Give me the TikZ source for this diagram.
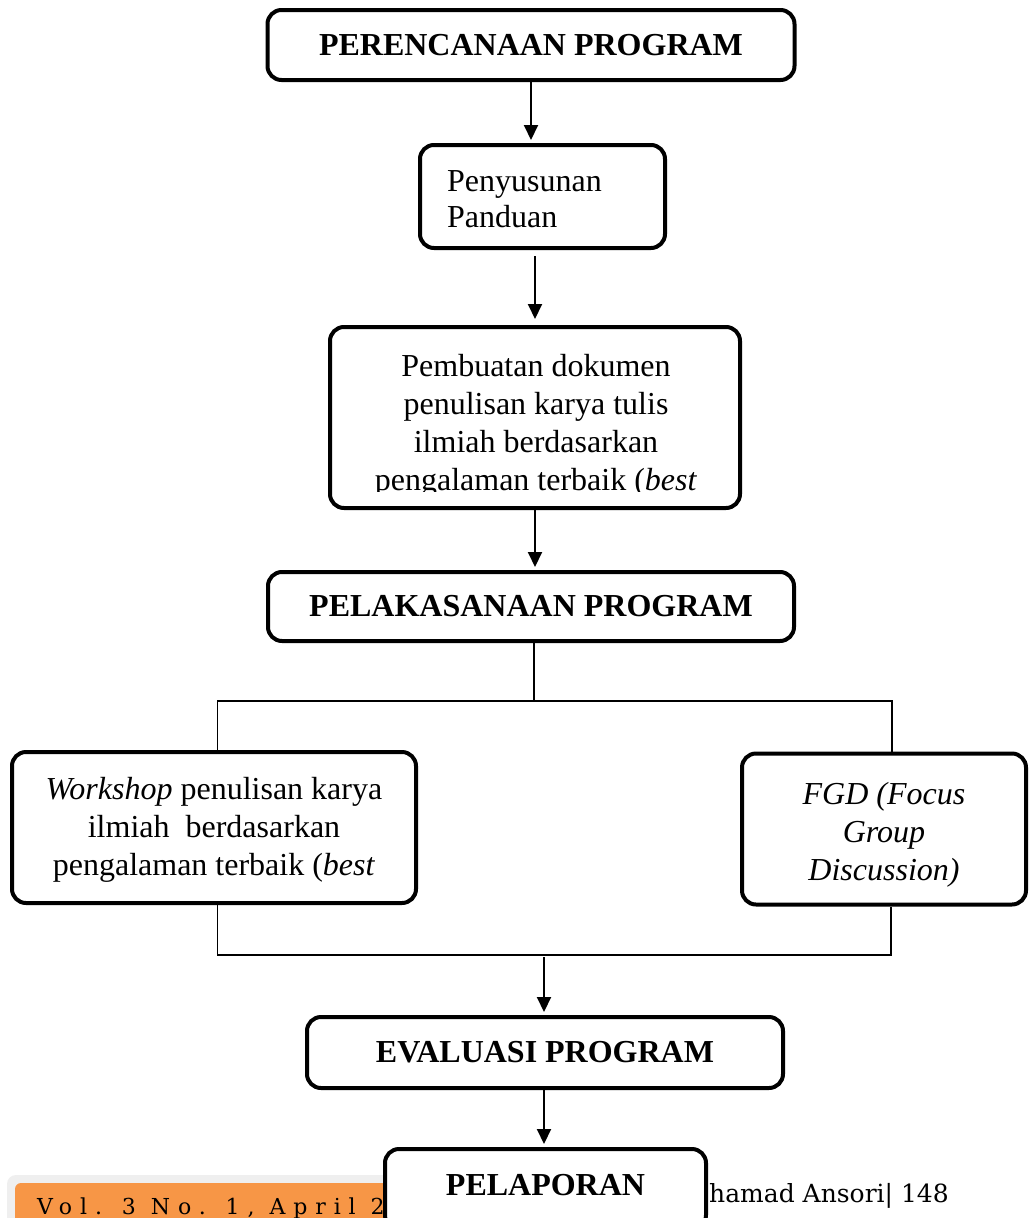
\documentclass[tikz,border=0pt]{standalone}
\usepackage{fontspec}
\setmainfont{Liberation Serif}
\newfontfamily\footfont{DejaVu Serif}
\usetikzlibrary{arrows.meta}
\definecolor{footorange}{HTML}{F79646}
\definecolor{footgrey}{HTML}{EFEFEF}
\begin{document}
\begin{tikzpicture}[x=1pt,y=-1pt,
  box/.style={draw=black, line width=4pt, rounded corners=14pt, fill=white, inner sep=0pt},
  lbl/.style={font=\fontsize{32}{38}\selectfont, align=center, inner sep=0pt},
  head/.style={font=\fontsize{32}{38}\selectfont\bfseries},
  arr/.style={line width=2pt, -{Triangle[length=15pt,width=14pt]}},
  link/.style={line width=1.5pt}]
\clip (0,0) rectangle (1032,1218);
\fill[white] (0,0) rectangle (1032,1218);

% boxes
\node[box, head, minimum width=527pt, minimum height=70pt] (b1) at (531,45) {PERENCANAAN PROGRAM};
\node[box, minimum width=245pt, minimum height=103pt] (b2) at (542.5,196.5) {};
\node[lbl, align=left, anchor=west, font=\fontsize{32}{35.5}\selectfont] (t2) at (447,199) {Penyusunan\\Panduan};
\node[box, minimum width=410pt, minimum height=181pt] (b3) at (535,417.5) {};
\begin{scope}
  \clip (332,330) rectangle (738,491);
  \node[lbl] (t3) at (536,426) {Pembuatan dokumen\\penulisan karya tulis\\ilmiah berdasarkan\\pengalaman terbaik (\textit{best}};
\end{scope}
\node[box, head, minimum width=526pt, minimum height=69pt] (b4) at (531,606.5) {PELAKASANAAN PROGRAM};
\node[box, minimum width=404pt, minimum height=151pt] (b5) at (214,827.5) {};
\node[lbl] (t5) at (214,829.5) {\textit{Workshop} penulisan karya\\ilmiah\ \ berdasarkan\\pengalaman terbaik (\textit{best}};
\node[box, minimum width=284pt, minimum height=151pt] (b6) at (884,829) {};
\node[lbl] (t6) at (884,834.5) {\textit{FGD (Focus}\\\textit{Group}\\\textit{Discussion)}};
\node[box, head, minimum width=476pt, minimum height=71pt] (b7) at (545,1052.5) {EVALUASI PROGRAM};

% junction lines
\coordinate (jt) at (534,701);
\coordinate (jl) at (217.5,701);
\coordinate (jr) at (892,701);
\coordinate (kl) at (217.5,955);
\coordinate (kr) at (891,955);
\coordinate (km) at (544,955);

\draw[arr, shorten >=3pt] (b1.south) -- (b1.south |- b2.north);
\draw[arr, shorten <=6pt, shorten >=6pt] (b2.south -| b3.north) -- (b3.north);
\draw[arr, shorten >=3pt] (b3.south) -- (b3.south |- b4.north);
\draw[link] (b4.south -| jt) -- (jt);
\draw[link] (jl |- b5.north) -- (jl) -- (jr) -- (jr |- b6.north);
\draw[link] (kl |- b5.south) -- (kl) -- (kr) -- (kr |- b6.south);
\draw[arr, shorten <=2pt, shorten >=3pt] (km) -- (km |- b7.north);

% footer
\fill[footgrey, rounded corners=9pt] (7,1175) rectangle (560,1240);
\fill[footorange, rounded corners=6pt] (15,1183) rectangle (560,1240);
\node[anchor=base west, inner sep=0pt, font=\footfont\fontsize{22}{26}\selectfont\addfontfeature{LetterSpace=36}] (vol) at (37,1214) {Vol. 3 No. 1, April 2};
\node[anchor=base west, inner sep=0pt, font=\footfont\fontsize{25}{29}\selectfont] (auth) at (709,1202) {hamad Ansori| 148};

\node[box, head, minimum width=321pt, minimum height=80pt] (b8) at (545.5,1189) {\raisebox{8pt}{PELAPORAN}};
\draw[arr, shorten >=3pt] (b7.south -| km) -- (km |- b8.north);
\end{tikzpicture}
\end{document}
